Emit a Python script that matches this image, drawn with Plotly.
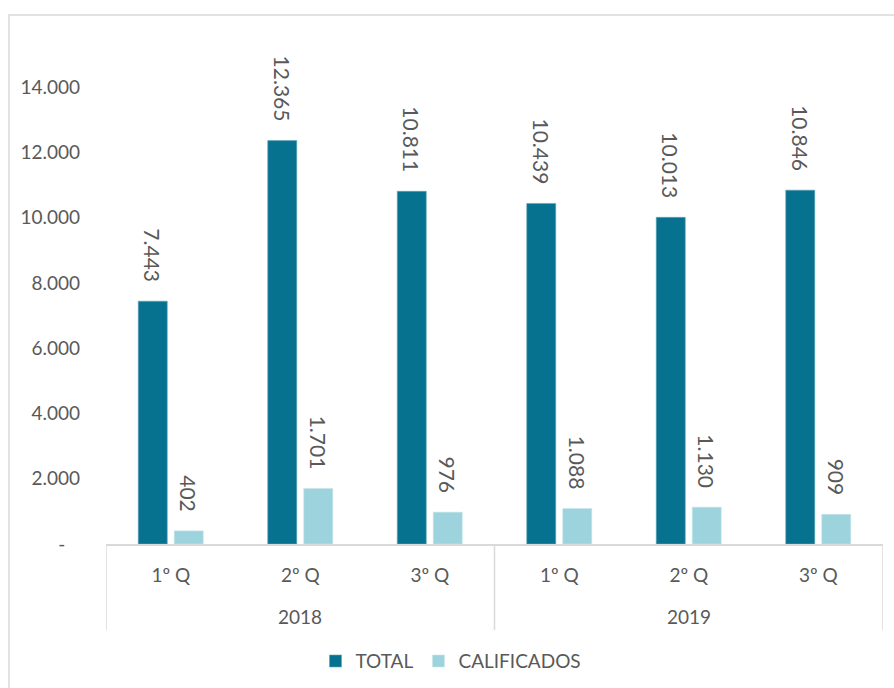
import plotly.graph_objects as go

years = ["2018", "2019"]
quarters = ["1º Q", "2º Q", "3º Q", "1º Q", "2º Q", "3º Q"]
total = [7443, 12365, 10811, 10439, 10013, 10846]
calificados = [402, 1701, 976, 1088, 1130, 909]
y_ticks = [0, 2000, 4000, 6000, 8000, 10000, 12000, 14000]

def fmt(v):
    return f"{v:,}".replace(",", ".")

n = len(quarters)
per_year = n // len(years)
xpos = list(range(n))
year_centers = [i * per_year + (per_year - 1) / 2 for i in range(len(years))]
year_bounds = [i * per_year - 0.5 for i in range(len(years) + 1)]
xr = [-0.5, n - 0.5]

tick_text = ["-\u00a0\u00a0\u00a0" if v == 0 else fmt(v) for v in y_ticks]

FONT = "Lato"
TXT = "#595959"
GRID = "#D9D9D9"
PAD = "\u00a0\u00a0\u00a0"

fig = go.Figure()
fig.add_trace(go.Bar(
    x=xpos, y=total, name="TOTAL",
    marker=dict(color="#07728F", line=dict(color="#5FA6B9", width=0.6)),
    text=[fmt(v) + PAD for v in total], textposition="outside", textangle=90,
    constraintext="none", cliponaxis=False,
    textfont=dict(family=FONT, size=21, color=TXT),
))
fig.add_trace(go.Bar(
    x=xpos, y=calificados, name="CALIFICADOS",
    marker=dict(color="#9DD3DC", line=dict(color="#C8E6EB", width=0.6)),
    text=[fmt(v) + PAD for v in calificados], textposition="outside", textangle=90,
    constraintext="none", cliponaxis=False,
    textfont=dict(family=FONT, size=21, color=TXT),
))

shapes = [dict(type="rect", xref="paper", yref="paper",
               x0=-0.1248, x1=1.2, y0=-0.5, y1=1.0134,
               line=dict(color=GRID, width=1.5), fillcolor="rgba(0,0,0,0)",
               layer="below")]
for b in year_bounds:
    shapes.append(dict(type="line", xref="x", yref="paper", x0=b, x1=b,
                       y0=0, y1=-0.165, line=dict(color=GRID, width=1.5)))

annotations = [dict(x=c, y=-0.138, xref="x", yref="paper", text=yr,
                    showarrow=False, yanchor="middle", xanchor="center",
                    font=dict(family=FONT, size=19, color=TXT))
               for c, yr in zip(year_centers, years)]

fig.update_layout(
    width=894, height=688,
    margin=dict(l=106, r=11, t=22, b=144, autoexpand=False),
    paper_bgcolor="white", plot_bgcolor="white",
    barmode="group", bargap=0.444, bargroupgap=0.194,
    font=dict(family=FONT, size=19, color=TXT),
    legend=dict(orientation="h", x=0.444, xanchor="center", y=-0.188, yanchor="top",
                font=dict(family=FONT, size=19, color=TXT), itemwidth=30,
                traceorder="normal"),
    showlegend=True,
    shapes=shapes,
    annotations=annotations,
    xaxis=dict(range=xr, tickvals=xpos, ticktext=quarters, showgrid=False,
               zeroline=False, showline=True, linecolor=GRID, linewidth=1.5,
               ticks="", ticklabelstandoff=13, automargin=False,
               tickfont=dict(family=FONT, size=19, color=TXT)),
    yaxis=dict(range=[0, 16000], tickvals=y_ticks, ticktext=tick_text,
               showgrid=False, zeroline=False, showline=False,
               ticklabelstandoff=25, automargin=False,
               tickfont=dict(family=FONT, size=19, color=TXT)),
)

fig.write_html("out.html", config={"displayModeBar": False},
               post_script="document.body.style.margin='0';document.body.style.padding='0';")
